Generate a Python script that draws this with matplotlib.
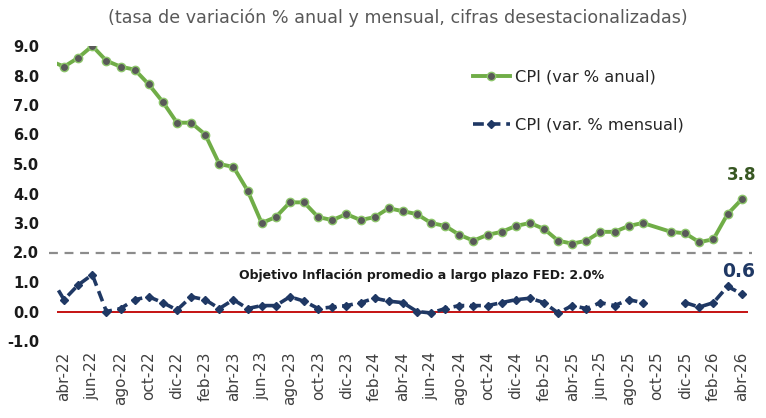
import numpy as np
import matplotlib
matplotlib.use("Agg")
import matplotlib.pyplot as plt

plt.rcParams['font.family'] = ['DejaVu Sans']

# monthly periods mar-22 ... abr-26
months = ["mar-22", "abr-22", "may-22", "jun-22", "jul-22", "ago-22", "sep-22", "oct-22", "nov-22", "dic-22",
          "ene-23", "feb-23", "mar-23", "abr-23", "may-23", "jun-23", "jul-23", "ago-23", "sep-23", "oct-23", "nov-23", "dic-23",
          "ene-24", "feb-24", "mar-24", "abr-24", "may-24", "jun-24", "jul-24", "ago-24", "sep-24", "oct-24", "nov-24", "dic-24",
          "ene-25", "feb-25", "mar-25", "abr-25", "may-25", "jun-25", "jul-25", "ago-25", "sep-25", "oct-25", "nov-25", "dic-25",
          "ene-26", "feb-26", "mar-26", "abr-26"]

cpi_anual = [8.5, 8.3, 8.6, 9.0, 8.5, 8.3, 8.2, 7.7, 7.1, 6.4,
             6.4, 6.0, 5.0, 4.9, 4.1, 3.0, 3.2, 3.7, 3.7, 3.2, 3.1, 3.3,
             3.1, 3.2, 3.5, 3.4, 3.3, 3.0, 2.9, 2.6, 2.4, 2.6, 2.7, 2.9,
             3.0, 2.8, 2.4, 2.3, 2.4, 2.7, 2.7, 2.9, 3.0, np.nan, 2.7, 2.65,
             2.35, 2.45, 3.3, 3.8]

cpi_mensual = [1.2, 0.4, 0.9, 1.25, 0.0, 0.1, 0.4, 0.5, 0.3, 0.05,
               0.5, 0.4, 0.1, 0.4, 0.1, 0.2, 0.2, 0.5, 0.35, 0.1, 0.15, 0.2,
               0.3, 0.45, 0.35, 0.3, 0.0, -0.05, 0.1, 0.2, 0.2, 0.2, 0.3, 0.4,
               0.45, 0.3, -0.05, 0.2, 0.1, 0.3, 0.2, 0.4, 0.3, np.nan, np.nan, 0.3,
               0.15, 0.3, 0.85, 0.6]

objetivo_fed = 2.0
yticks = [-1.0, 0.0, 1.0, 2.0, 3.0, 4.0, 5.0, 6.0, 7.0, 8.0, 9.0]

title = "(tasa de variación % anual y mensual, cifras desestacionalizadas)"
label_anual = "CPI (var % anual)"
label_mensual = "CPI (var. % mensual)"
label_obj = "Objetivo Inflación promedio a largo plazo FED: 2.0%"

W, H = 766, 418
fig = plt.figure(figsize=(W / 100, H / 100), dpi=100)
ax = fig.add_axes([57 / W, (H - 341) / H, (748 - 57) / W, (341 - 46) / H])

x = np.arange(len(months))
ya = np.array(cpi_anual, dtype=float)
ym = np.array(cpi_mensual, dtype=float)

green = "#70AD47"
navy = "#1F3864"

# zero line and target line
ax.axhline(0, color="#C00000", lw=1.3, zorder=1)
ax.axhline(objetivo_fed, xmin=-0.012, xmax=1.006, color="#8C8C8C", lw=1.6,
           linestyle=(0, (4, 3)), clip_on=False, zorder=1)

ma = ~np.isnan(ya)
la, = ax.plot(x[ma], ya[ma], color=green, lw=2.8, marker="o", markersize=6.0,
              markerfacecolor="#595959", markeredgecolor="#8CC56A", markeredgewidth=1.0,
              zorder=3, label=label_anual)
lm, = ax.plot(x, ym, color=navy, lw=2.6, linestyle=(0, (3, 1.6)), marker="D", markersize=4.5,
              markerfacecolor=navy, markeredgecolor=navy, zorder=3, label=label_mensual)

ax.set_xlim(0.5, 49.45)
ax.set_ylim(-1.0, 9.0)

tick_idx = list(range(1, len(months), 2))
ax.set_xticks(tick_idx)
ax.set_xticklabels([months[i] for i in tick_idx], rotation=90, fontsize=11, color="#404040")
ax.set_yticks(yticks)
ax.set_yticklabels([f"{v:.1f}" for v in yticks], fontsize=10.5, fontweight="bold", color="#1A1A1A")
ax.tick_params(axis="both", length=0)
ax.tick_params(axis="y", pad=13)
ax.tick_params(axis="x", pad=7.5)
for s in ax.spines.values():
    s.set_visible(False)

# annotations for last values
ax.annotate(f"{ya[-1]:.1f}", xy=(x[-1], ya[-1]), xytext=(0, 11), textcoords="offset points",
            ha="center", va="bottom", fontsize=12, fontweight="bold", color="#385723")
ax.annotate(f"{ym[-1]:.1f}", xy=(x[-1], ym[-1]), xytext=(-2, 9), textcoords="offset points",
            ha="center", va="bottom", fontsize=13.5, fontweight="bold", color=navy)

ax.text(0.528, (H - 276 - (H - 341)) / (341 - 46), label_obj, transform=ax.transAxes,
        ha="center", va="center", fontsize=9, fontweight="bold", color="#1A1A1A")

fig.text(398 / W, 1 - 18 / H, title, ha="center", va="center", fontsize=12.6, color="#595959")

fig.legend(handles=[la, lm], loc="upper left", bbox_to_anchor=(458 / W, 1 - 55 / H),
           frameon=False, fontsize=11.7, handlelength=2.3, handletextpad=0.3,
           labelspacing=2.05, labelcolor="#262626")

fig.savefig("out.png", dpi=100)
